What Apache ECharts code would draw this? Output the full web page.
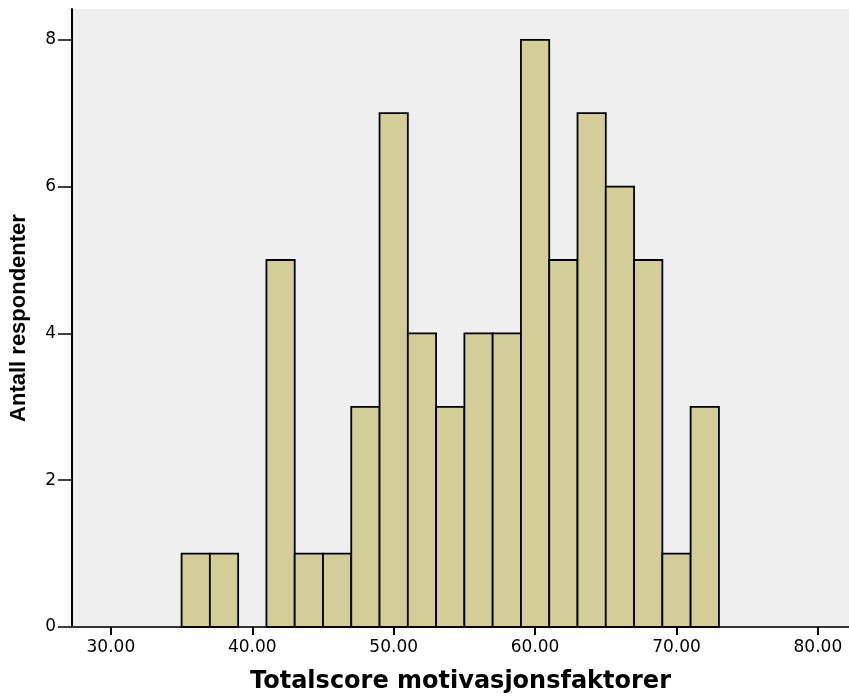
<!DOCTYPE html>
<html>
<head>
<meta charset="utf-8">
<script src="https://cdn.jsdelivr.net/npm/echarts@6/dist/echarts.min.js"></script>
<style>
html,body{margin:0;padding:0;background:#fff;}
#c{width:849px;height:697px;}
</style>
</head>
<body>
<div id="c"></div>
<script>
// Histogram bins (lower edge) and counts
const binStarts = [35, 37, 39, 41, 43, 45, 47, 49, 51, 53, 55, 57, 59, 61, 63, 65, 67, 69, 71];
const counts    = [ 1,  1,  0,  5,  1,  1,  3,  7,  4,  3,  4,  4,  8,  5,  7,  6,  5,  1,  3];
const binWidth = 2;
const xTicks = [30, 40, 50, 60, 70, 80];
const yTicks = [0, 2, 4, 6, 8];
const xTitle = 'Totalscore motivasjonsfaktorer';
const yTitle = 'Antall respondenter';

const data = binStarts.map((s, i) => [s, s + binWidth, counts[i]]);

const chart = echarts.init(document.getElementById('c'), null, {renderer: 'canvas'});
chart.setOption({
  animation: false,
  backgroundColor: '#ffffff',
  grid: {left: 72, right: 0, top: 9, bottom: 70, show: true, backgroundColor: '#efefef', borderWidth: 0, containLabel: false, outerBoundsMode: 'none'},
  xAxis: [{
    type: 'value', min: 27.25, max: 82.2,
    splitLine: {show: false},
    axisLine: {show: true, onZero: false, lineStyle: {color: '#000', width: 2}},
    axisTick: {show: true, length: 8, customValues: xTicks, lineStyle: {color: '#000', width: 2}},
    axisLabel: {customValues: xTicks, formatter: v => v.toFixed(2), color: '#000', fontSize: 17, fontFamily: 'DejaVu Sans, sans-serif', margin: 12},
    name: xTitle, nameLocation: 'middle', nameGap: 43,
    nameTextStyle: {fontSize: 24, fontWeight: 'bold', color: '#000', fontFamily: 'DejaVu Sans, sans-serif'}
  }, {
    type: 'value', position: 'top', min: 27.25, max: 82.2,
    splitLine: {show: false},
    axisLine: {show: true, lineStyle: {color: '#333', width: 2}},
    axisTick: {show: false}, axisLabel: {show: false}
  }],
  yAxis: {
    type: 'value', min: 0, max: 8.42,
    splitLine: {show: false},
    axisLine: {show: true, lineStyle: {color: '#000', width: 2}},
    axisTick: {show: true, length: 14, customValues: yTicks, lineStyle: {color: '#000', width: 1.5}},
    axisLabel: {customValues: yTicks, color: '#000', fontSize: 17, fontFamily: 'DejaVu Sans, sans-serif', margin: 16},
    name: yTitle, nameLocation: 'middle', nameGap: 42, nameRotate: 90,
    nameTextStyle: {fontSize: 22, fontWeight: 'bold', color: '#000', fontFamily: 'Liberation Sans Narrow, Arial Narrow, Liberation Sans, sans-serif'}
  },
  series: [{
    type: 'custom',
    xAxisIndex: 0,
    data: data,
    encode: {x: [0, 1], y: 2},
    renderItem: function (params, api) {
      const v = api.value(2);
      if (!v) return null;
      const p0 = api.coord([api.value(0), 0]);
      const p1 = api.coord([api.value(1), v]);
      return {
        type: 'rect',
        shape: {x: p0[0], y: p1[1], width: p1[0] - p0[0], height: p0[1] - p1[1]},
        style: {fill: '#d3ce97', stroke: '#000', lineWidth: 1.8}
      };
    }
  }]
});
</script>
</body>
</html>
